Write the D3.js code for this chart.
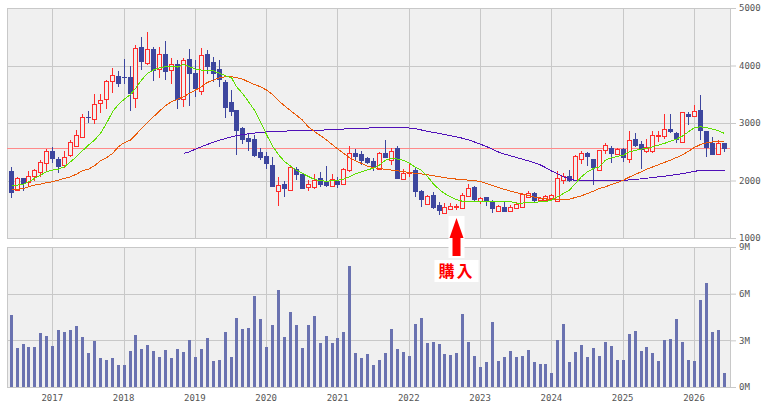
<!DOCTYPE html>
<html>
<head>
<meta charset="utf-8">
<script src="https://cdn.jsdelivr.net/npm/d3@7"></script>
<style>
  body { margin: 0; background: #fff; }
  svg { display: block; }
  .axis text { font-family: "DejaVu Sans Mono", monospace; font-size: 9px; fill: #555; }
  .axis line { stroke: #c8c8c8; }
</style>
</head>
<body>
<svg id="chart" width="764" height="407"></svg>
<script>
// --- Dữ liệu: nến tháng 2016-06 .. 2026-06 ---
const opens = [2164,1833,2036,1978,2082,2152,2309,2512,2374,2258, 2432,2606,2751,3110,3063,3336,3411,3736,3817,3800,
  3805,3428,4321,4031,4287,3939,4199,3915,4025,3411, 4113,3875,3562,4199,4066,3939,3719,3371,3226,2919,
  2745,2716,2501,2426,2269,1823,1939,1835,2194,2113, 1875,1893,2038,1997,1893,1997,1933,2171,2472,2455,
  2397,2345,2212,2484,2356,2571,2038,2142,2182,1823, 1591,1748,1574,1441,1516,1533,1516,1719,1893,1649,
  1707,1643,1475,1545,1458,1516,1545,1719,1788,1672, 1661,1690,1632,2009,2078,2009,2374,2472,2374,2182,
  2530,2559,2461,2542,2368,2716,2635,2501,2519,2780, 2774,2890,2832,2664,3156,3127,3226,2861,2658,2472,
  2646];
const highs = [2227,2053,2049,2164,2199,2355,2547,2577,2413,2519, 2704,2878,3156,3209,3504,3504,3747,3962,3904,4113,
  3997,4356,4495,4582,4321,4321,4426,4124,4095,4124, 4287,4095,4310,4269,4153,4095,3747,3574,3226,2936,
  2820,2791,2559,2501,2403,2055,1997,2240,2229,2125, 2009,2113,2153,2252,2113,2055,2212,2600,2548,2519,
  2415,2385,2501,2704,2571,2606,2194,2310,2229,1835, 1748,1794,1620,1603,1614,1597,1788,1939,1904,1719,
  1719,1655,1574,1632,1574,1620,1777,1817,1794,1719, 1748,1765,2165,2125,2182,2443,2519,2501,2380,2535,
  2658,2606,2571,2571,2861,2832,2687,2716,2861,2861, 3156,3156,2849,3197,3185,3313,3487,2861,2762,2704,
  2658];
const lows = [1688,1823,1823,1891,1997,2065,2171,2297,2123,2212, 2402,2588,2733,2994,2982,3179,3242,3515,3632,3672,
  3214,3254,3921,4008,3730,3788,3747,3677,3242,3284, 3301,3457,3487,3846,3719,3632,3081,3122,2443,2629,
  2519,2403,2356,2200,1880,1562,1719,1823,2009,1845, 1823,1852,1893,1893,1881,1875,1922,2153,2356,2269,
  2281,2171,2205,2390,2269,2020,2030,2067,1707,1533, 1574,1504,1400,1429,1487,1481,1504,1707,1649,1591,
  1562,1429,1458,1450,1450,1499,1540,1701,1632,1620, 1643,1672,1620,1933,1968,1991,2287,2252,1922,2171,
  2461,2310,2443,2327,2310,2580,2200,2472,2484,2675, 2716,2832,2658,2646,2965,3098,2704,2403,2450,2455,
  2501];
const closes = [1775,2036,1937,2077,2181,2320,2512,2374,2239,2402, 2664,2791,3098,3095,3330,3394,3730,3834,3672,3790,
  3515,4298,4066,4281,3910,4199,3892,4025,3399,4095, 3852,3591,4182,3968,3863,3747,3266,3197,2861,2704,
  2675,2414,2397,2287,1893,1922,1852,2229,2084,1852, 1933,2009,1922,1910,2020,1922,2194,2472,2403,2327,
  2310,2223,2484,2397,2519,2026,2136,2148,1794,1661, 1736,1516,1470,1545,1562,1556,1748,1864,1661,1701,
  1632,1504,1556,1458,1533,1591,1765,1788,1643,1701, 1730,1748,2038,2078,1997,2426,2472,2397,2212,2530,
  2617,2461,2548,2385,2704,2588,2530,2577,2791,2791, 2890,2832,2704,3185,3110,3209,2867,2559,2455,2658,
  2542];
// Khối lượng (triệu)
const volumes = [4.61,2.51,2.74,2.55,2.55,3.45,3.26,2.61,3.64,3.51, 3.64,3.90,3.19,2.16,2.94,1.84,1.71,1.84,1.39,1.39,
  2.29,3.32,2.42,2.68,2.29,1.91,2.36,1.84,2.42,2.23, 3.00,1.91,2.42,3.13,1.65,1.71,3.51,1.91,4.41,3.70,
  3.77,5.82,4.35,2.55,3.96,6.21,3.19,4.80,3.96,2.48, 3.96,4.54,2.81,3.26,2.81,3.13,3.51,7.75,2.16,1.84,
  2.10,1.39,1.71,2.16,3.70,2.42,2.23,1.97,4.03,4.41, 2.81,2.87,2.74,2.10,2.03,2.16,4.67,2.87,1.97,1.26,
  1.58,4.15,1.65,1.91,2.29,1.91,1.97,2.36,1.58,1.46, 1.46,0.88,3.00,4.03,1.58,2.23,2.68,1.91,2.48,1.97,
  2.87,2.61,1.71,1.71,3.39,3.58,2.29,2.55,2.16,1.65, 3.00,3.06,4.35,2.87,1.71,1.65,5.57,6.66,3.51,3.64,
  0.88];
// Đường trung bình
const maShort = [1920,1920,1932,1978,2036,2094,2152,2181,2198,2239, 2326,2413,2517,2616,2703,2819,2993,3196,3324,3416,
  3498,3602,3747,3863,3921,3962,3979,3985,3973,4020, 3979,3938,3921,3921,3909,3863,3822,3788,3631,3515,
  3370,3220,3020,2800,2600,2450,2330,2250,2180,2125, 2068,2020,1995,1988,1995,2005,2025,2065,2115,2152,
  2185,2215,2268,2355,2384,2372,2350,2300,2230,2175, 2070,1940,1840,1775,1715,1670,1638,1630,1630,1630,
  1630,1630,1630,1630,1630,1607,1607,1618,1618,1630, 1630,1659,1717,1775,1833,1949,2065,2152,2210,2239,
  2355,2396,2420,2442,2500,2523,2546,2558,2587,2616, 2645,2686,2720,2773,2848,2918,2935,2918,2894,2865,
  2819];
const maMid = [1845,1845,1862,1891,1920,1937,1961,1978,2007,2036, 2065,2111,2169,2198,2256,2343,2396,2471,2587,2662,
  2700,2790,2906,3010,3109,3208,3300,3370,3411,3457, 3515,3573,3631,3706,3747,3788,3805,3805,3788,3764,
  3715,3670,3630,3573,3495,3390,3300,3215,3135,3050, 2930,2850,2780,2705,2620,2550,2475,2396,2343,2297,
  2251,2222,2210,2193,2181,2169,2152,2140,2123,2115, 2100,2082,2065,2048,2036,2024,2015,2007,2000,1980,
  1950,1915,1880,1845,1815,1790,1763,1735,1710,1695, 1680,1668,1665,1665,1676,1705,1734,1775,1816,1862,
  1891,1932,1965,2007,2060,2110,2150,2195,2235,2275, 2315,2355,2400,2445,2510,2575,2625,2655,2672,2680,
  2668];
const maLong = Array(29).fill(null).concat([2471,
  2500,2545,2587,2628,2665,2700,2730,2758,2780,2800, 2812,2825,2835,2845,2850,2855,2860,2862,2865,2868,
  2870,2872,2875,2880,2885,2890,2895,2900,2905,2908, 2912,2915,2918,2920,2922,2922,2920,2912,2900,2878,
  2855,2836,2820,2800,2780,2760,2735,2705,2670,2630, 2590,2545,2495,2460,2430,2400,2372,2340,2305,2270,
  2225,2165,2120,2065,2025,2000,1995,1993,1992,1992, 1992,1992,1992,1995,2015,2022,2028,2040,2050,2065,
  2075,2090,2105,2120,2140,2160,2175,2177,2178,2178, 2178]);

const priceTicks = [1000, 2000, 3000, 4000, 5000];
const volumeTicks = [0, 3, 6, 9];
const refLine = 2560;
const buyMonth = 75;   // 2022-09
const buyLabel = "購入";

const months = d3.timeMonth.range(new Date(2016, 5, 1), new Date(2026, 6, 1));

// --- Khung vẽ ---
const svg = d3.select("#chart");
const left = 7, right = 730;
const top1 = 8, bot1 = 238, top2 = 247, bot2 = 387;
const bg = "#f0f0f0", grid = "#c8c8c8";

const x = d3.scaleBand().domain(months).range([7.7, 726.7]);
const cx = i => Math.round(x(months[i]) + x.bandwidth() / 2);

const y = d3.scaleLinear().domain([1000, 5000]).range([bot1, top1]);
const yv = d3.scaleLinear().domain([0, 9]).range([bot2, top2]);

// Nền hai panel
[[top1, bot1], [top2, bot2]].forEach(([t, b]) => {
  svg.append("rect")
     .attr("x", left).attr("y", t)
     .attr("width", right - left).attr("height", b - t)
     .attr("fill", bg);
});

// Lưới dọc theo năm
const yearMonths = months.filter(m => m.getMonth() === 0);
const yearIdx = yearMonths.map(m => months.indexOf(m));
[[top1, bot1], [top2, bot2]].forEach(([t, b]) => {
  svg.append("g").selectAll("line")
    .data(yearIdx)
    .enter().append("line")
      .attr("x1", i => cx(i) + 0.5).attr("x2", i => cx(i) + 0.5)
      .attr("y1", t).attr("y2", b)
      .attr("stroke", grid);
});

// Lưới ngang
svg.append("g").selectAll("line")
  .data([2000, 3000, 4000])
  .enter().append("line")
    .attr("x1", left).attr("x2", right)
    .attr("y1", d => Math.round(y(d)) + 0.5).attr("y2", d => Math.round(y(d)) + 0.5)
    .attr("stroke", grid);
svg.append("g").selectAll("line")
  .data([3, 6])
  .enter().append("line")
    .attr("x1", left).attr("x2", right)
    .attr("y1", d => Math.round(yv(d)) + 0.5).attr("y2", d => Math.round(yv(d)) + 0.5)
    .attr("stroke", grid);

// Viền
[[top1, bot1], [top2, bot2]].forEach(([t, b]) => {
  svg.append("rect")
     .attr("x", left + 0.5).attr("y", t + 0.5)
     .attr("width", right - left).attr("height", b - t)
     .attr("fill", "none").attr("stroke", grid);
});

// Đường tham chiếu đỏ
svg.append("line")
   .attr("x1", left).attr("x2", right)
   .attr("y1", Math.round(y(refLine)) + 0.5).attr("y2", Math.round(y(refLine)) + 0.5)
   .attr("stroke", "#ff8a8a");

// Nến
const idx = d3.range(months.length);
const up = i => closes[i] >= opens[i];
const red = "#ff2b2b", blue = "#3d469e";

const candles = svg.append("g").attr("shape-rendering", "crispEdges");
candles.selectAll("line.wick")
  .data(idx)
  .enter().append("line")
    .attr("class", "wick")
    .attr("x1", i => cx(i) + 0.5).attr("x2", i => cx(i) + 0.5)
    .attr("y1", i => y(highs[i])).attr("y2", i => y(lows[i]))
    .attr("stroke", i => up(i) ? red : blue);

candles.selectAll("rect.body")
  .data(idx)
  .enter().append("rect")
    .attr("class", "body")
    .attr("x", i => up(i) ? cx(i) - 1.5 : cx(i) - 2)
    .attr("width", i => up(i) ? 4 : 5)
    .attr("y", i => Math.round(y(Math.max(opens[i], closes[i]))) + (up(i) ? 0.5 : 0))
    .attr("height", i => Math.max(1, Math.round(Math.abs(y(opens[i]) - y(closes[i])))))
    .attr("fill", i => up(i) ? bg : blue)
    .attr("stroke", i => up(i) ? red : "none");

// Đường MA
const line = d3.line()
  .defined(d => d != null)
  .x((d, i) => cx(i) + 0.5)
  .y(d => y(d));
[[maLong, "#5010b8"], [maMid, "#ea5a08"], [maShort, "#5ee000"]].forEach(([s, c]) => {
  svg.append("path")
     .datum(s)
     .attr("d", line)
     .attr("fill", "none")
     .attr("stroke", c)
     .attr("stroke-width", 1)
     .attr("shape-rendering", "crispEdges");
});

// Khối lượng
svg.append("g").attr("shape-rendering", "crispEdges")
  .selectAll("rect")
  .data(idx)
  .enter().append("rect")
    .attr("x", i => cx(i) - 1)
    .attr("width", 3)
    .attr("y", i => yv(volumes[i]))
    .attr("height", i => yv(0) - yv(volumes[i]))
    .attr("fill", "#6a72b0");

// Trục giá (phải)
svg.append("g")
   .attr("class", "axis")
   .attr("transform", `translate(${right},0)`)
   .call(d3.axisRight(y).tickValues(priceTicks).tickSize(6).tickPadding(3).tickFormat(d3.format("d")))
   .call(g => g.select(".domain").remove());

// che nửa dưới nhãn 1000
svg.append("rect")
   .attr("x", right + 1).attr("y", 241.5)
   .attr("width", 40).attr("height", 6)
   .attr("fill", "#fff");

svg.append("g")
   .attr("class", "axis")
   .attr("transform", `translate(${right},0)`)
   .call(d3.axisRight(yv).tickValues(volumeTicks).tickSize(6).tickPadding(3).tickFormat(d => d + "M"))
   .call(g => g.select(".domain").remove());

// Trục năm
svg.append("g")
   .attr("class", "axis")
   .attr("transform", `translate(0,${bot2})`)
   .call(d3.axisBottom(x).tickValues(yearMonths).tickSize(0).tickPadding(8).tickFormat(d3.timeFormat("%Y")))
   .call(g => g.select(".domain").remove());

// Mũi tên "購入"
const ax = cx(buyMonth) + 0.5;
const tipY = Math.round(y(lows[buyMonth])) + 8;
svg.append("rect")
   .attr("x", ax - 8).attr("y", tipY - 2)
   .attr("width", 16).attr("height", 42)
   .attr("fill", "#fff");
svg.append("path")
   .attr("d", `M${ax},${tipY} L${ax + 7},${tipY + 20} L${ax + 4},${tipY + 20} L${ax + 4},${tipY + 38}
               L${ax - 4},${tipY + 38} L${ax - 4},${tipY + 20} L${ax - 7},${tipY + 20} Z`)
   .attr("fill", "#ff0000");
svg.append("rect")
   .attr("x", ax - 22).attr("y", tipY + 42)
   .attr("width", 44).attr("height", 22)
   .attr("fill", "#fff");
svg.append("text")
   .attr("x", ax)
   .attr("y", tipY + 53)
   .attr("dy", "0.35em")
   .attr("text-anchor", "middle")
   .style("font-family", "'Noto Sans CJK JP'")
   .style("font-size", "16px")
   .style("font-weight", "bold")
   .style("letter-spacing", "2px")
   .attr("fill", "#ff0000")
   .text(buyLabel);
</script>
</body>
</html>
